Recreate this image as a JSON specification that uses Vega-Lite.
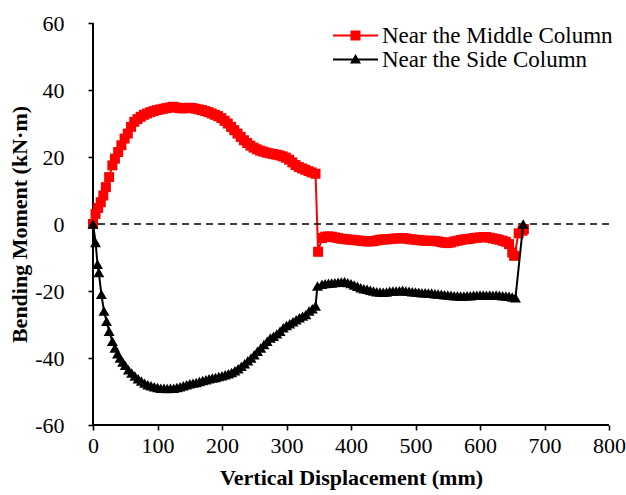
{
  "$schema": "https://vega.github.io/schema/vega-lite/v6.json",
  "width": 516,
  "height": 402,
  "autosize": "none",
  "padding": {"left": 93, "top": 23, "right": 17, "bottom": 70},
  "background": "white",
  "config": {
    "view": {"stroke": null},
    "font": "Liberation Serif",
    "axis": {
      "grid": false,
      "domain": false,
      "tickColor": "#000000",
      "tickWidth": 1.6,
      "tickSize": 5,
      "labelFont": "Liberation Serif",
      "labelFontSize": 22,
      "labelColor": "#000000",
      "titleFont": "Liberation Serif",
      "titleFontSize": 22,
      "titleFontWeight": "bold",
      "titleColor": "#000000"
    }
  },
  "datasets": {
    "middle": [
      {"d":0,"m":0},{"d":4,"m":3},{"d":8,"m":4.8},{"d":12,"m":6.5},{"d":16,"m":8.5},{"d":20,"m":11},{"d":25,"m":14},{"d":30,"m":17.5},{"d":34,"m":19.5},{"d":39,"m":21.5},
      {"d":44,"m":23.5},{"d":49,"m":25.5},{"d":54,"m":27},{"d":59,"m":29},{"d":64,"m":30.5},{"d":69,"m":31.3},{"d":74,"m":32},{"d":79,"m":32.6},{"d":84,"m":33},{"d":89,"m":33.4},
      {"d":94,"m":33.7},{"d":99,"m":34},{"d":104,"m":34.2},{"d":109,"m":34.4},{"d":114,"m":34.6},{"d":119,"m":34.8},{"d":124,"m":35},{"d":129,"m":34.8},{"d":134,"m":34.6},{"d":139,"m":34.5},
      {"d":144,"m":34.6},{"d":149,"m":34.7},{"d":154,"m":34.6},{"d":159,"m":34.4},{"d":164,"m":34.2},{"d":169,"m":34},{"d":174,"m":33.7},{"d":179,"m":33.4},{"d":184,"m":33},{"d":189,"m":32.6},
      {"d":194,"m":32.2},{"d":199,"m":31.6},{"d":204,"m":30.8},{"d":209,"m":30},{"d":214,"m":29},{"d":219,"m":28},{"d":224,"m":27},{"d":229,"m":26},{"d":234,"m":25},{"d":239,"m":24.2},
      {"d":244,"m":23.4},{"d":249,"m":22.8},{"d":254,"m":22.3},{"d":259,"m":21.9},{"d":264,"m":21.6},{"d":269,"m":21.3},{"d":274,"m":21.1},{"d":279,"m":20.9},{"d":284,"m":20.7},{"d":289,"m":20.5},
      {"d":294,"m":20.2},{"d":299,"m":19.8},{"d":304,"m":19.2},{"d":309,"m":18.4},{"d":314,"m":17.6},{"d":319,"m":17},{"d":324,"m":16.6},{"d":329,"m":16.2},{"d":334,"m":15.8},{"d":339,"m":15.4},
      {"d":345,"m":15},{"d":349,"m":-8.3},{"d":355,"m":-4.2},{"d":360,"m":-3.8},{"d":365,"m":-3.7},{"d":370,"m":-3.8},{"d":375,"m":-4},{"d":380,"m":-4.2},{"d":385,"m":-4.4},{"d":390,"m":-4.5},
      {"d":395,"m":-4.6},{"d":400,"m":-4.7},{"d":405,"m":-4.8},{"d":410,"m":-4.9},{"d":415,"m":-5},{"d":420,"m":-5.1},{"d":425,"m":-5.2},{"d":430,"m":-5.2},{"d":435,"m":-5.1},{"d":440,"m":-4.9},
      {"d":445,"m":-4.7},{"d":450,"m":-4.6},{"d":455,"m":-4.6},{"d":460,"m":-4.5},{"d":465,"m":-4.4},{"d":470,"m":-4.3},{"d":475,"m":-4.3},{"d":480,"m":-4.2},{"d":485,"m":-4.3},{"d":490,"m":-4.5},
      {"d":495,"m":-4.6},{"d":500,"m":-4.7},{"d":505,"m":-4.8},{"d":510,"m":-4.9},{"d":515,"m":-5},{"d":520,"m":-5},{"d":525,"m":-5},{"d":530,"m":-5.1},{"d":535,"m":-5.2},{"d":540,"m":-5.4},
      {"d":545,"m":-5.6},{"d":550,"m":-5.7},{"d":555,"m":-5.5},{"d":560,"m":-5.2},{"d":565,"m":-5},{"d":570,"m":-4.8},{"d":575,"m":-4.6},{"d":580,"m":-4.5},{"d":585,"m":-4.4},{"d":590,"m":-4.2},
      {"d":595,"m":-4.1},{"d":600,"m":-4},{"d":605,"m":-3.9},{"d":610,"m":-3.9},{"d":615,"m":-4.1},{"d":620,"m":-4.3},{"d":625,"m":-4.5},{"d":630,"m":-4.7},{"d":635,"m":-5},{"d":640,"m":-5.3},
      {"d":645,"m":-6},{"d":650,"m":-8.5},{"d":653,"m":-9.5},{"d":660,"m":-2.8},{"d":666,"m":-2},{"d":668,"m":-1.5}
    ],
    "side": [
      {"d":0,"m":0},{"d":4,"m":-5.5},{"d":7,"m":-12},{"d":9,"m":-14.5},{"d":13,"m":-21},{"d":17,"m":-26},{"d":21,"m":-29},{"d":25,"m":-32},{"d":30,"m":-35},{"d":34,"m":-37},
      {"d":38,"m":-38.7},{"d":42,"m":-40},{"d":46,"m":-41.2},{"d":50,"m":-42.2},{"d":55,"m":-43.5},{"d":60,"m":-44.5},{"d":65,"m":-45.4},{"d":70,"m":-46.2},{"d":75,"m":-46.9},{"d":80,"m":-47.5},
      {"d":85,"m":-48},{"d":90,"m":-48.3},{"d":95,"m":-48.6},{"d":100,"m":-48.8},{"d":105,"m":-49},{"d":110,"m":-49},{"d":115,"m":-49.1},{"d":120,"m":-49},{"d":125,"m":-49},{"d":130,"m":-48.8},
      {"d":135,"m":-48.6},{"d":140,"m":-48.3},{"d":145,"m":-48},{"d":150,"m":-47.7},{"d":155,"m":-47.5},{"d":160,"m":-47.3},{"d":165,"m":-47},{"d":170,"m":-46.7},{"d":175,"m":-46.5},{"d":180,"m":-46.2},
      {"d":185,"m":-46},{"d":190,"m":-45.8},{"d":195,"m":-45.5},{"d":200,"m":-45.3},{"d":205,"m":-45},{"d":210,"m":-44.7},{"d":215,"m":-44.3},{"d":220,"m":-43.8},{"d":225,"m":-43.2},{"d":230,"m":-42.5},
      {"d":235,"m":-41.7},{"d":240,"m":-40.8},{"d":245,"m":-40},{"d":250,"m":-39},{"d":255,"m":-38},{"d":260,"m":-37},{"d":265,"m":-36},{"d":270,"m":-35},{"d":275,"m":-34},{"d":280,"m":-33.5},
      {"d":285,"m":-32.8},{"d":290,"m":-32},{"d":295,"m":-31},{"d":300,"m":-30.3},{"d":305,"m":-29.8},{"d":310,"m":-29.2},{"d":315,"m":-28.6},{"d":320,"m":-28},{"d":325,"m":-27.5},{"d":330,"m":-27},
      {"d":335,"m":-26},{"d":340,"m":-25.3},{"d":345,"m":-24.5},{"d":348,"m":-18.5},{"d":355,"m":-18},{"d":360,"m":-17.8},{"d":365,"m":-17.7},{"d":370,"m":-17.6},{"d":375,"m":-17.5},{"d":380,"m":-17.4},
      {"d":385,"m":-17.3},{"d":390,"m":-17.2},{"d":395,"m":-17.5},{"d":400,"m":-17.8},{"d":405,"m":-18.2},{"d":410,"m":-18.6},{"d":415,"m":-19},{"d":420,"m":-19.3},{"d":425,"m":-19.5},{"d":430,"m":-19.8},
      {"d":435,"m":-20},{"d":440,"m":-20.2},{"d":445,"m":-20.3},{"d":450,"m":-20.4},{"d":455,"m":-20.3},{"d":460,"m":-20.1},{"d":465,"m":-20},{"d":470,"m":-20},{"d":475,"m":-19.9},{"d":480,"m":-19.8},
      {"d":485,"m":-20},{"d":490,"m":-20.1},{"d":495,"m":-20.2},{"d":500,"m":-20.3},{"d":505,"m":-20.4},{"d":510,"m":-20.5},{"d":515,"m":-20.5},{"d":520,"m":-20.6},{"d":525,"m":-20.6},{"d":530,"m":-20.8},
      {"d":535,"m":-20.9},{"d":540,"m":-21},{"d":545,"m":-21.1},{"d":550,"m":-21.2},{"d":555,"m":-21.3},{"d":560,"m":-21.4},{"d":565,"m":-21.4},{"d":570,"m":-21.5},{"d":575,"m":-21.5},{"d":580,"m":-21.4},
      {"d":585,"m":-21.4},{"d":590,"m":-21.3},{"d":595,"m":-21.3},{"d":600,"m":-21.2},{"d":605,"m":-21.2},{"d":610,"m":-21.3},{"d":615,"m":-21.2},{"d":620,"m":-21.3},{"d":625,"m":-21.2},{"d":630,"m":-21.3},
      {"d":635,"m":-21.4},{"d":640,"m":-21.5},{"d":645,"m":-21.6},{"d":650,"m":-21.8},{"d":655,"m":-22},{"d":667,"m":0}
    ],
    "zero": [{"m": 0}],
    "yaxisline": [{"d": 0}],
    "xaxisline": [{"m": -60}],
    "legend": [{"series": "Near the Middle Column"}, {"series": "Near the Side Column"}]
  },
  "layer": [
    {
      "data": {"name": "middle"},
      "mark": {"type": "line", "color": "#ff0000", "strokeWidth": 2},
      "encoding": {
        "x": {"field": "d", "type": "quantitative",
          "scale": {"domain": [0, 800], "nice": false, "zero": false},
          "axis": {"values": [0,100,200,300,400,500,600,700,800], "labelFlush": false, "title": "Vertical Displacement (mm)", "labelPadding": 5, "titlePadding": 11}},
        "y": {"field": "m", "type": "quantitative",
          "scale": {"domain": [-60, 60], "nice": false, "zero": false},
          "axis": {"values": [-60,-40,-20,0,20,40,60], "labelExpr": "'' + datum.value", "title": "Bending Moment (kN·m)", "labelPadding": 24, "titlePadding": 3}}
      }
    },
    {
      "data": {"name": "zero"},
      "mark": {"type": "rule", "color": "black", "strokeWidth": 1.3, "strokeDash": [7, 5]},
      "encoding": {
        "y": {"field": "m", "type": "quantitative"}
      }
    },
    {
      "data": {"name": "yaxisline"},
      "mark": {"type": "rule", "color": "#000000", "strokeWidth": 2},
      "encoding": {
        "x": {"field": "d", "type": "quantitative"}
      }
    },
    {
      "data": {"name": "xaxisline"},
      "mark": {"type": "rule", "color": "#000000", "strokeWidth": 2},
      "encoding": {
        "y": {"field": "m", "type": "quantitative"}
      }
    },
    {
      "data": {"name": "middle"},
      "mark": {"type": "point", "shape": "square", "filled": true, "color": "#ff0000", "size": 100, "opacity": 1},
      "encoding": {
        "x": {"field": "d", "type": "quantitative"},
        "y": {"field": "m", "type": "quantitative"}
      }
    },
    {
      "data": {"name": "side"},
      "mark": {"type": "line", "color": "#000000", "strokeWidth": 2},
      "encoding": {
        "x": {"field": "d", "type": "quantitative"},
        "y": {"field": "m", "type": "quantitative"}
      }
    },
    {
      "data": {"name": "side"},
      "mark": {"type": "point", "shape": "triangle-up", "filled": true, "color": "#000000", "size": 120, "opacity": 1},
      "encoding": {
        "x": {"field": "d", "type": "quantitative"},
        "y": {"field": "m", "type": "quantitative"}
      }
    },
    {
      "data": {"name": "legend"},
      "transform": [{"filter": "false"}],
      "mark": {"type": "point", "filled": true, "opacity": 1, "size": 100},
      "encoding": {
        "color": {"field": "series", "type": "nominal",
          "scale": {"domain": ["Near the Middle Column", "Near the Side Column"], "range": ["#ff0000", "#000000"]},
          "legend": {"title": null, "orient": "none", "legendX": 251, "legendY": 1, "symbolSize": 100, "symbolStrokeWidth": 0, "labelFont": "Liberation Serif", "labelFontSize": 23, "labelColor": "black", "labelOffset": 15, "rowPadding": -1, "padding": 0, "labelLimit": 400}},
        "shape": {"field": "series", "type": "nominal",
          "scale": {"domain": ["Near the Middle Column", "Near the Side Column"], "range": ["M-4.5,-0.2H4.5V0.2H-4.5Z M-1,-1H1V1H-1Z", "M-4.5,-0.2H4.5V0.2H-4.5Z M0,-1.1L1.1,0.8H-1.1Z"]},
          "legend": {"title": null, "orient": "none", "legendX": 251, "legendY": 1, "symbolSize": 100, "symbolStrokeWidth": 0, "labelFont": "Liberation Serif", "labelFontSize": 23, "labelColor": "black", "labelOffset": 15, "rowPadding": -1, "padding": 0, "labelLimit": 400}}
      }
    }
  ]
}
